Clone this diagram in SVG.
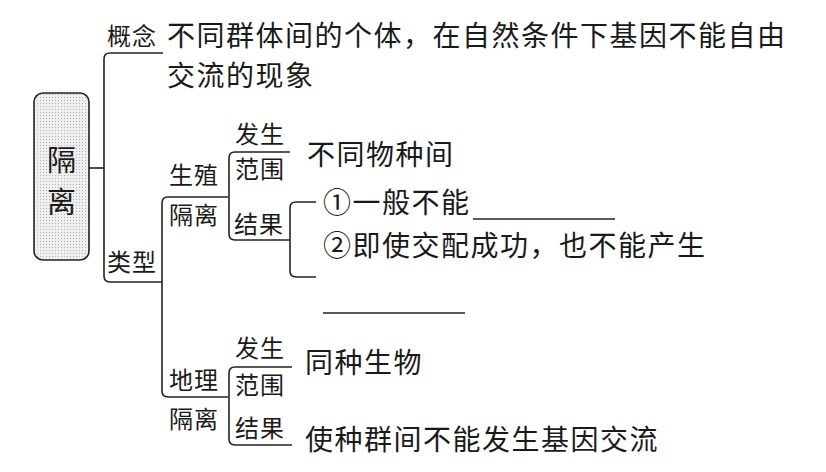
<svg xmlns="http://www.w3.org/2000/svg" width="826" height="472" viewBox="0 0 826 472">
<defs>
<pattern id="dots" width="3" height="3" patternUnits="userSpaceOnUse">
<rect width="3" height="3" fill="#efefef"/>
<rect x="1" y="1" width="1" height="1" fill="#b0b0b0"/>
</pattern>
<style>
.t{font-family:"Noto Sans CJK SC","Noto Sans CJK JP",sans-serif;fill:#1a1a1a}
.m{font-size:28px;letter-spacing:1.5px}
.l{font-size:24px;letter-spacing:1px}
.c{fill:none;stroke:#222;stroke-width:1.6}
</style>
</defs>
<rect width="826" height="472" fill="#ffffff"/>
<g id="root">
<rect x="34" y="93" width="55" height="167" rx="9" fill="url(#dots)" stroke="#222" stroke-width="1.6"/>
<text class="t" x="61.5" y="171" font-size="29" text-anchor="middle">隔</text>
<text class="t" x="61.5" y="213" font-size="29" text-anchor="middle">离</text>
</g>
<g id="connectors">
<path class="c" d="M89,168 H104"/>
<path class="c" d="M163,53 H110 Q104,53 104,59 V276 Q104,282 110,282 H162"/>
<path class="c" d="M228,197 H168 Q162,197 162,203 V391 Q162,397 168,397 H228"/>
<path class="c" d="M290,152 H235 Q229,152 229,158 V234 Q229,240 235,240 H290"/>
<path class="c" d="M316,202 H296 Q290,202 290,208 V271 Q290,277 296,277 H316"/>
<path class="c" d="M292,367 H235 Q229,367 229,373 V439 Q229,445 235,445 H292"/>
<path class="c" d="M473,219 H615"/>
<path class="c" d="M323,313 H465"/>
</g>
<g id="concept">
<text class="t l" x="107" y="45">概念</text>
<text class="t m" x="167" y="46">不同群体间的个体，在自然条件下基因不能自由</text>
<text class="t m" x="167" y="86">交流的现象</text>
</g>
<g id="type">
<text class="t l" x="107" y="271">类型</text>
</g>
<g id="repro">
<text class="t l" x="169" y="184">生殖</text>
<text class="t l" x="169" y="224">隔离</text>
<text class="t l" x="235" y="143">发生</text>
<text class="t l" x="235" y="178">范围</text>
<text class="t l" x="234" y="233">结果</text>
<text class="t m" x="307" y="165">不同物种间</text>
<text class="t m" x="323" y="213">①一般不能</text>
<text class="t m" x="323" y="256">②即使交配成功，也不能产生</text>
</g>
<g id="geo">
<text class="t l" x="169" y="389">地理</text>
<text class="t l" x="169" y="428">隔离</text>
<text class="t l" x="235" y="357">发生</text>
<text class="t l" x="235" y="394">范围</text>
<text class="t l" x="235" y="437">结果</text>
<text class="t m" x="305" y="373">同种生物</text>
<text class="t m" x="305" y="450">使种群间不能发生基因交流</text>
</g>
</svg>
